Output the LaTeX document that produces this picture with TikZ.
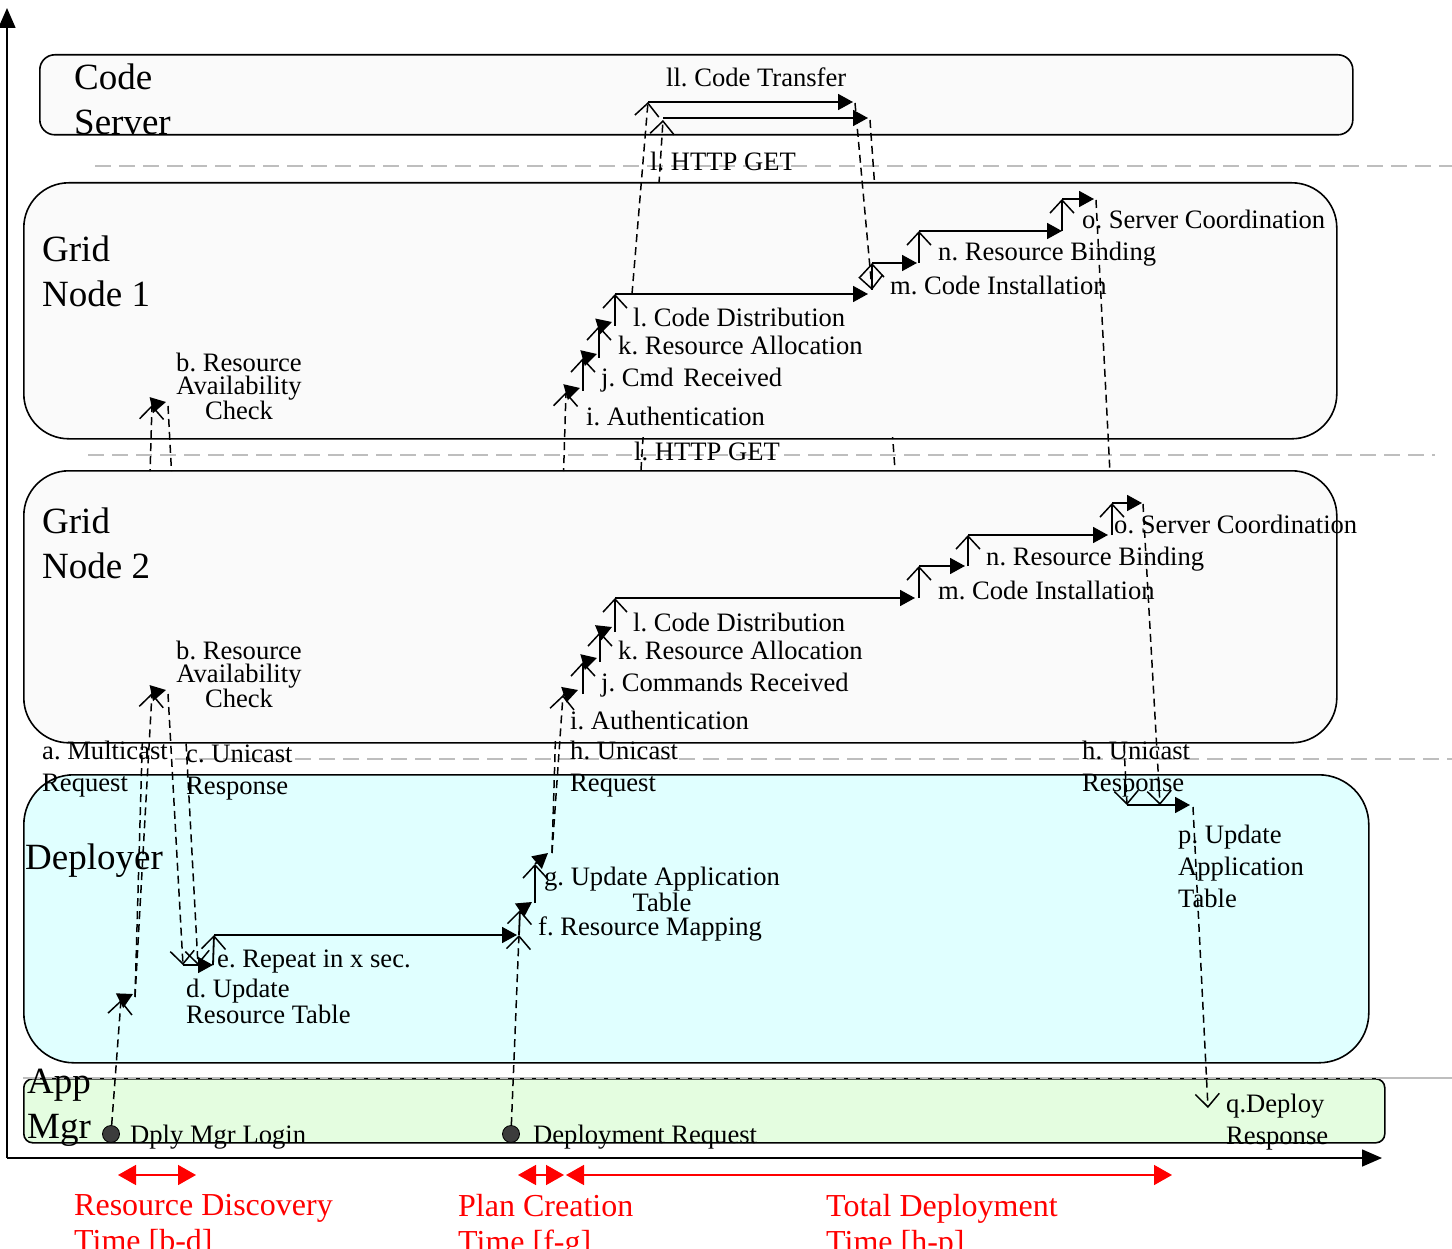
\documentclass[tikz,border=0pt]{standalone}
\usepackage{fontspec}
\setmainfont{Liberation Serif}
\usetikzlibrary{arrows.meta}
\definecolor{lanegray}{RGB}{250,250,250}
\definecolor{depcyan}{RGB}{224,255,255}
\definecolor{appgreen}{RGB}{228,253,224}
\definecolor{sepgray}{RGB}{190,190,190}
\definecolor{dotfill}{RGB}{60,60,60}
\tikzset{
  lanebox/.style={draw=black, line width=1.6pt, anchor=north west, inner sep=0pt},
  sepline/.style={draw=sepgray, line width=1.6pt, dash pattern=on 16pt off 8pt},
  lbl/.style={anchor=base west, inner sep=0pt, font=\fontsize{26.6}{26}\selectfont},
  mlbl/.style={anchor=north west, inner sep=0pt, align=left, font=\fontsize{26.6}{32}\selectfont},
  clbl/.style={anchor=north, inner sep=0pt, align=center, font=\fontsize{26.6}{22.5}\selectfont},
  biglbl/.style={anchor=north west, inner sep=0pt, align=left, font=\fontsize{37}{45}\selectfont},
  redlbl/.style={anchor=north west, inner sep=0pt, align=left, text=red, font=\fontsize{32}{36}\selectfont},
  msgline/.style={draw, line width=1.5pt, dash pattern=on 8pt off 5pt},
  msg/.style={msgline, -{Straight Barb[length=13pt,width=24pt,line width=1.5pt]}},
  upstep/.style={draw, line width=1.8pt, -{Straight Barb[length=13pt,width=24pt,line width=1.5pt]}},
  fillstep/.style={draw, line width=1.8pt, -{Triangle[length=15pt,width=16pt]}},
  timearrow/.style={draw=red, line width=1.6pt, {Triangle[length=18pt,width=20pt]}-{Triangle[length=18pt,width=20pt]}},
  axisline/.style={draw, line width=1.6pt, -{Triangle[length=20pt,width=17pt]}},
  evt/.style={circle, fill=dotfill, draw=black, line width=0.8pt, minimum size=17pt, inner sep=0pt},
}
\begin{document}
\frenchspacing
\begin{tikzpicture}[x=1pt,y=-1pt]
\useasboundingbox (0,0) rectangle (1452,1249);

% axes
\coordinate (origin) at (7,1158);
\coordinate (ytip) at (7,8);
\coordinate (xtip) at (1382,1158);
\draw[axisline] (origin) -- (ytip);
\draw[axisline] (origin) -- (xtip);

% lanes
\node[lanebox, fill=lanegray, rounded corners=15pt, minimum width=1313pt, minimum height=80pt] (cs) at (39,54) {};
\node[lanebox, fill=lanegray, rounded corners=45pt, minimum width=1313pt, minimum height=256pt] (gn1) at (23,182) {};
\node[lanebox, fill=lanegray, rounded corners=45pt, minimum width=1313pt, minimum height=272pt] (gn2) at (23,470) {};
\node[lanebox, fill=depcyan, rounded corners=50pt, minimum width=1345pt, minimum height=288pt] (dep) at (23,774) {};
\node[lanebox, fill=appgreen, rounded corners=9pt, minimum width=1361pt, minimum height=64pt] (app) at (23,1078) {};

% separators
\draw[sepline] (95,166) -- (1452,166);
\draw[sepline] (88,455) -- (1435,455);
\draw[sepline] (175,759) -- (1452,759);
\draw[sepgray, line width=1.6pt] (23,1078) -- (1452,1078);
\draw[black, line width=1pt, dash pattern=on 4pt off 8pt] (40,1078) -- (1380,1078);

% event points
\node[evt] (L0) at (111,1134) {};
\node[evt] (R0) at (511,1134) {};

% coordinates
\coordinate (a0) at (121,1000);
\coordinate (a1) at (135,997);
\coordinate (b1) at (152,405);
\coordinate (b2) at (152,693);
\coordinate (c1) at (168,406);
\coordinate (c2) at (168,694);
\coordinate (d1) at (198,965);
\coordinate (d2) at (183,965);
\coordinate (e0) at (213,965);
\coordinate (e1) at (214,935);
\coordinate (f0) at (517,935);
\coordinate (f1) at (519,935);
\coordinate (f2) at (520,910);
\coordinate (g1) at (535,903);
\coordinate (g2) at (535,864);
\coordinate (h0) at (552,853);
\coordinate (i1) at (566,392);
\coordinate (i2) at (563,695);

% a. multicast request / b / c / d / e
\draw[msg] (L0) -- (a0);
\draw[fillstep] (a0) -- (133,994);
\draw[msg] (a1) -- (b2);
\draw[fillstep] (b2) -- (166,690);
\draw[msg] (c2) -- (d2);
\draw[fillstep] (b1) -- (166,402);
\draw[fillstep] (d2) -- (e0);
\draw[upstep] (e0) -- (e1);
\draw[fillstep] (e1) -- (f0);
% f, g, h
\draw[msg] (R0) -- (f1);
\draw[upstep] (f1) -- (f2);
\draw[fillstep] (f2) -- (532,902);
\draw[upstep] (g1) -- (g2);
\draw[fillstep] (g2) -- (548,853);
\draw[msg] (h0) -- (i2);

% Grid Node 1 chain
\coordinate (k1a) at (583,391);
\coordinate (k1b) at (583,358);
\coordinate (l1a) at (599,358);
\coordinate (l1b) at (599,326);
\coordinate (m1a) at (615,326);
\coordinate (m1b) at (615,294);
\coordinate (cd1) at (868,294);
\coordinate (hg1) at (632,294);
\coordinate (ct1a) at (648,102);
\coordinate (ct1b) at (853,102);
\coordinate (ct1c) at (855,103);
\coordinate (mi1a) at (872,290);
\coordinate (mi1b) at (872,263);
\coordinate (rb1a) at (917,263);
\coordinate (rb1b) at (919,263);
\coordinate (rb1c) at (919,231);
\coordinate (sc1a) at (1062,231);
\coordinate (sc1b) at (1062,199);
\coordinate (sc1c) at (1094,199);
\coordinate (o1e) at (1096,200);
\coordinate (p1) at (1127,805);
\draw[fillstep] (i1) -- (580,388);
\draw[upstep] (k1a) -- (k1b);
\draw[fillstep] (k1b) -- (597,354);
\draw[upstep] (l1a) -- (l1b);
\draw[fillstep] (l1b) -- (612,322);
\draw[upstep] (m1a) -- (m1b);
\draw[fillstep] (m1b) -- (cd1);
\draw[msg] (hg1) -- (ct1a);
\draw[fillstep] (ct1a) -- (ct1b);
\draw[msg] (ct1c) -- (mi1a);
\draw[upstep] (mi1a) -- (mi1b);
\draw[fillstep] (mi1b) -- (rb1a);
\draw[upstep] (rb1b) -- (rb1c);
\draw[fillstep] (rb1c) -- (sc1a);
\draw[upstep] (sc1a) -- (sc1b);
\draw[fillstep] (sc1b) -- (sc1c);

% Grid Node 1 messages crossing Grid Node 2 (hidden behind it)
\begin{scope}
\clip (0,0) rectangle (1452,471) (0,741) rectangle (1452,1249);
\draw[msg] (a1) -- (b1);
\draw[msg] (c1) -- (d1);
\draw[msg] (h0) -- (i1);
\draw[msg] (o1e) -- (p1);
\end{scope}

% Grid Node 2 chain
\coordinate (k2a) at (583,694);
\coordinate (k2b) at (583,662);
\coordinate (l2a) at (600,662);
\coordinate (l2b) at (600,632);
\coordinate (m2a) at (615,632);
\coordinate (m2b) at (615,598);
\coordinate (cd2) at (915,598);
\coordinate (mi2a) at (919,598);
\coordinate (mi2b) at (919,566);
\coordinate (rb2a) at (965,566);
\coordinate (rb2b) at (968,566);
\coordinate (rb2c) at (968,535);
\coordinate (sc2a) at (1108,535);
\coordinate (sc2b) at (1112,535);
\coordinate (sc2c) at (1112,503);
\coordinate (sc2d) at (1142,503);
\coordinate (o2e) at (1143,504);
\coordinate (p2) at (1160,805);
\draw[fillstep] (i2) -- (578,690);
\draw[upstep] (k2a) -- (k2b);
\draw[fillstep] (k2b) -- (597,658);
\draw[upstep] (l2a) -- (l2b);
\draw[fillstep] (l2b) -- (612,627);
\draw[upstep] (m2a) -- (m2b);
\draw[fillstep] (m2b) -- (cd2);
\draw[upstep] (mi2a) -- (mi2b);
\draw[fillstep] (mi2b) -- (rb2a);
\draw[upstep] (rb2b) -- (rb2c);
\draw[fillstep] (rb2c) -- (sc2a);
\draw[upstep] (sc2b) -- (sc2c);
\draw[fillstep] (sc2c) -- (sc2d);
\draw[msg] (o2e) -- (p2);

% Grid Node 2 code fetch (hidden behind Grid Node 1)
\coordinate (hg2) at (641,470);
\coordinate (ct2a) at (663,120);
\coordinate (ct2s) at (663,118);
\coordinate (ct2b) at (868,118);
\coordinate (ct2c) at (870,120);
\coordinate (ct2d) at (895,470);
\draw[fillstep] (ct2s) -- (ct2b);
\begin{scope}
\clip (0,0) rectangle (1452,183) (0,437) rectangle (1452,1249);
\draw[msg] (hg2) -- (ct2a);
\draw[msgline] (ct2c) -- (ct2d);
\end{scope}

% p, q
\coordinate (p3) at (1190,805);
\coordinate (q0) at (1193,807);
\coordinate (q1) at (1208,1108);
\draw[fillstep] (p1) -- (p3);
\draw[msg] (q0) -- (q1);

% time spans
\coordinate (t1a) at (118,1175);
\coordinate (t1b) at (196,1175);
\coordinate (t2a) at (518,1175);
\coordinate (t2b) at (564,1175);
\coordinate (t3a) at (566,1175);
\coordinate (t3b) at (1172,1175);
\draw[timearrow] (t1a) -- (t1b);
\draw[timearrow] (t2a) -- (t2b);
\draw[timearrow] (t3a) -- (t3b);

% lane titles
\node[biglbl] (tcs) at (74,64) {Code\\Server};
\node[biglbl] (tg1) at (42,236) {Grid\\Node 1};
\node[biglbl] (tg2) at (42,508) {Grid\\Node 2};
\node[anchor=base west, inner sep=0pt, font=\fontsize{37}{45}\selectfont] (tdep) at (25,869) {Deployer};
\node[biglbl] (tapp) at (27,1069) {App\\Mgr};

% labels
\node[lbl] (xct) at (666,87) {ll. Code Transfer};
\node[lbl] (xhg1) at (650,171) {l. HTTP GET};
\node[lbl] (xhg2) at (634,460) {l. HTTP GET};

\node[lbl] (xo1) at (1082,229) {o. Server Coordination};
\node[lbl] (xn1) at (938,261) {n. Resource Binding};
\node[lbl] (xm1) at (890,295) {m. Code Installation};
\node[lbl] (xl1) at (633,327) {l. Code Distribution};
\node[lbl] (xk1) at (618,355) {k. Resource Allocation};
\node[lbl] (xj1) at (601,387) {j. Cmd\hspace{3pt} Received};
\node[lbl] (xi1) at (586,425) {i. Authentication};
\node[clbl] (xb1) at (239,353) {b. Resource\\Availability\\Check};

\node[lbl] (xo2) at (1114,533) {o. Server Coordination};
\node[lbl] (xn2) at (986,565) {n. Resource Binding};
\node[lbl] (xm2) at (938,599) {m. Code Installation};
\node[lbl] (xl2) at (633,631) {l. Code Distribution};
\node[lbl] (xk2) at (618,659) {k. Resource Allocation};
\node[lbl] (xj2) at (601,691) {j. Commands Received};
\node[lbl] (xi2) at (570,729) {i. Authentication};
\node[clbl] (xb2) at (239,641) {b. Resource\\Availability\\Check};

\node[mlbl] (xa) at (42,741) {a. Multicast\\Request};
\node[mlbl] (xc) at (186,745) {c. Unicast\\Response};
\node[mlbl] (xh1) at (570,741) {h. Unicast\\Request};
\node[mlbl] (xh2) at (1082,741) {h. Unicast\\Response};
\node[mlbl] (xp) at (1178,825) {p. Update\\Application\\Table};
\node[anchor=north, inner sep=0pt, align=center, font=\fontsize{26.6}{26}\selectfont] (xg) at (662,867) {g. Update Application\\Table};
\node[lbl] (xf) at (538,935) {f. Resource Mapping};
\node[lbl] (xe) at (217,967) {e. Repeat in x sec.};
\node[anchor=north west, inner sep=0pt, align=left, font=\fontsize{26.6}{26}\selectfont] (xd) at (186,979) {d. Update\\Resource Table};
\node[mlbl] (xq) at (1226,1094) {q.Deploy\\Response};
\node[lbl] (xlogin) at (130,1143) {Dply Mgr Login};
\node[lbl] (xreq) at (533,1143) {Deployment Request};

\node[redlbl] (r1) at (74,1194) {Resource Discovery\\Time [b-d]};
\node[redlbl] (r2) at (458,1194) {Plan Creation\\Time [f-g]};
\node[redlbl] (r3) at (826,1194) {Total Deployment\\Time [h-p]};
\end{tikzpicture}
\end{document}
